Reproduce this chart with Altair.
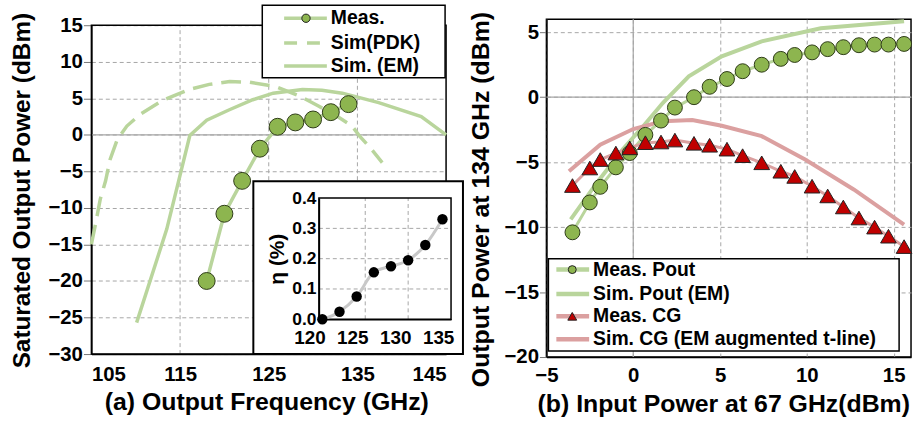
import altair as alt
import pandas as pd

# ---------------- panel (a): saturated output power vs frequency ----------------
meas_freq = [118, 120, 122, 124, 126, 128, 130, 132, 134]
meas_psat = [-20.0, -10.8, -6.3, -1.9, 1.1, 1.7, 2.1, 3.1, 4.2]

pdk_freq = [105, 105.5, 106, 106.6, 107.1, 107.9, 109, 110.5, 113, 116, 118.3, 120.6,
            122.8, 125.8, 128.5, 130.5, 132.5, 134.4, 135.2, 136.6, 137.8]
pdk_psat = [-15.0, -12.0, -8.8, -6.3, -3.4, -0.7, 1.2, 2.8, 4.7, 6.2, 6.9, 7.3,
            7.2, 6.6, 5.3, 4.0, 2.7, 1.2, -0.1, -2.0, -3.8]

em_freq = [110.1, 113.5, 114.8, 116.1, 118, 120.5, 123.2, 125.5, 128.8, 131, 133.3, 137.4, 142.2, 145]
em_psat = [-25.7, -12.9, -6.5, -0.1, 2.0, 3.4, 4.8, 5.7, 6.2, 6.1, 5.7, 4.4, 2.5, 0.0]

# inset: efficiency
eff_freq = [120, 122, 124, 126, 128, 130, 132, 134]
eff_pct = [0.0, 0.025, 0.075, 0.155, 0.175, 0.195, 0.245, 0.33]

# ---------------- panel (b): output power / conversion gain vs input power ----------------
pin_meas = [-3.5, -2.5, -1.9, -1.0, -0.2, 0.7, 1.6, 2.4, 3.5, 4.4, 5.4, 6.3, 7.4, 8.5,
            9.3, 10.3, 11.2, 12.1, 13.0, 13.9, 14.7, 15.6]
pout_meas = [-10.4, -8.1, -6.9, -5.4, -4.3, -2.9, -1.8, -0.8, 0.0, 0.8, 1.4, 2.0, 2.5, 2.95,
             3.25, 3.45, 3.7, 3.85, 4.0, 4.05, 4.05, 4.1]
cg_meas = [-6.8, -5.45, -4.8, -4.3, -3.9, -3.5, -3.45, -3.3, -3.55, -3.7, -4.0, -4.5, -5.05, -5.7,
           -6.1, -6.85, -7.6, -8.45, -9.3, -10.0, -10.7, -11.5]

pin_sim_pout = [-3.6, -2.1, -0.6, 0.6, 1.7, 3.2, 5.1, 7.4, 10.8, 15.6]
pout_sim = [-9.4, -6.6, -4.0, -2.2, -0.45, 1.6, 3.15, 4.3, 5.3, 5.85]
pin_sim_cg = [-3.7, -1.9, 0.0, 1.7, 3.4, 5.1, 7.4, 9.9, 12.7, 15.6]
cg_sim = [-5.7, -3.65, -2.45, -1.85, -1.75, -2.2, -3.0, -4.8, -7.1, -9.8]

# tick values / axis extents
a_x_dom = [105, 145]
a_y_dom = [-30, 15]
a_x_ticks = [105, 115, 125, 135, 145]
a_x_grid = [115, 125, 135]
a_y_ticks = [-30, -25, -20, -15, -10, -5, 0, 5, 10, 15]
in_x_dom = [119.6, 135]
in_y_dom = [0.0, 0.4]
in_x_ticks = [120, 125, 130, 135]
in_y_ticks = [0.0, 0.1, 0.2, 0.3, 0.4]
in_grid_x = [125, 130]
in_grid_y = [0.1, 0.2, 0.3]
b_x_dom = [-5, 16]
b_y_dom = [-20, 6]
b_x_ticks = [-5, 0, 5, 10, 15]
b_y_ticks = [-20, -15, -10, -5, 0, 5]

title_a_y = "Saturated Output  Power (dBm)"
legend_a = ["Meas.", "Sim(PDK)", "Sim. (EM)"]
legend_b = ["Meas. Pout", "Sim. Pout  (EM)", "Meas. CG", "Sim. CG (EM augmented  t-line)"]

# ---------------- styles ----------------
FONT = "Liberation Sans"
GREEN_LT = "#b9d59c"
GREEN_PT = "#8db54f"
PINK = "#dba0a0"
RED = "#c00000"
GRID = "#a6a6a6"
DUMMY = pd.DataFrame({"k": [0]})
TOP = 6  # left plot frame starts 6 px below the right one


def seg(x0, x1, y, color, width, dash=None):
    kw = dict(color=color, strokeWidth=width)
    if dash:
        kw["strokeDash"] = dash
    return alt.Chart(DUMMY).mark_rule(**kw).encode(
        x=alt.value(x0), x2=alt.value(x1), y=alt.value(y))


def sym(x, y, shape, fill, size):
    return alt.Chart(DUMMY).mark_point(shape=shape, filled=True, fill=fill, stroke="#222222",
                                       strokeWidth=1, size=size, opacity=1).encode(
        x=alt.value(x), y=alt.value(y))


def label(x, y, text, size=19.5, angle=0, align="left"):
    return alt.Chart(DUMMY).mark_text(align=align, baseline="middle", font=FONT, angle=angle,
                                      fontWeight="bold", fontSize=size, color="black").encode(
        x=alt.value(x), y=alt.value(y), text=alt.value(text))


def box(x0, x1, y0, y1, sw=1.5):
    return alt.Chart(DUMMY).mark_rect(fill="white", stroke="black", strokeWidth=sw).encode(
        x=alt.value(x0), x2=alt.value(x1), y=alt.value(y0), y2=alt.value(y1))


def anchor(x, y):
    return alt.Chart(DUMMY).mark_point(size=1, opacity=0).encode(x=alt.value(x), y=alt.value(y))


# ================= panel (a) =================
H_A = 337
df_a = pd.concat([
    pd.DataFrame({"f": meas_freq, "p": meas_psat, "s": "meas"}),
    pd.DataFrame({"f": pdk_freq, "p": pdk_psat, "s": "pdk"}),
    pd.DataFrame({"f": em_freq, "p": em_psat, "s": "em"}),
])

xs_a = alt.Scale(domain=a_x_dom, nice=False, zero=False)
ys_a = alt.Scale(domain=a_y_dom, range=[H_A, TOP], nice=False, zero=False)
ax_xa = alt.Axis(values=a_x_ticks, title="(a) Output Frequency (GHz)", grid=False,
                 ticks=False, labelFlush=True, labelPadding=11, titlePadding=4, titleX=176,
                 labelFontSize=20.5, titleFontSize=25, labelOverlap=False, titleLimit=800)
ax_ya = alt.Axis(values=a_y_ticks, title=None, grid=True, gridDash=[4, 3],
                 gridColor=GRID, tickSize=8, tickColor="#777777", labelPadding=1,
                 labelFontSize=20.5, labelOverlap=False)


def enc_a():
    return dict(x=alt.X("f:Q", scale=xs_a, axis=ax_xa), y=alt.Y("p:Q", scale=ys_a, axis=ax_ya))


grid_xa = alt.Chart(pd.DataFrame({"f": a_x_grid, "p": a_y_dom[0], "p2": a_y_dom[1]})).mark_rule(
    color=GRID, strokeDash=[4, 3], strokeWidth=1).encode(
    x=alt.X("f:Q", scale=xs_a, axis=ax_xa), y=alt.Y("p:Q", scale=ys_a, axis=ax_ya), y2="p2:Q")
zero_a = alt.Chart(pd.DataFrame({"p": [0]})).mark_rule(color=GRID, strokeWidth=1.2).encode(
    y=alt.Y("p:Q", scale=ys_a, axis=ax_ya))
frame_a = alt.Chart(pd.DataFrame({"f": [a_x_dom[0]], "f2": [a_x_dom[1]],
                                  "p": [a_y_dom[0]], "p2": [a_y_dom[1]]})).mark_rect(
    fillOpacity=0, stroke="black", strokeWidth=1.5).encode(
    x=alt.X("f:Q", scale=xs_a, axis=ax_xa), x2="f2:Q",
    y=alt.Y("p:Q", scale=ys_a, axis=ax_ya), y2="p2:Q")
pdk_line = alt.Chart(df_a).transform_filter("datum.s == 'pdk'").mark_line(
    color=GREEN_LT, strokeWidth=3.5, strokeDash=[20, 9]).encode(**enc_a())
em_line = alt.Chart(df_a).transform_filter("datum.s == 'em'").mark_line(
    color=GREEN_LT, strokeWidth=3.5).encode(**enc_a())
meas_line = alt.Chart(df_a).transform_filter("datum.s == 'meas'").mark_line(
    color=GREEN_LT, strokeWidth=3.5).encode(**enc_a())
meas_pts = alt.Chart(df_a).transform_filter("datum.s == 'meas'").mark_circle(
    size=290, color=GREEN_PT, stroke="#2e3b18", strokeWidth=1, opacity=1).encode(**enc_a())

main_a = alt.layer(grid_xa, zero_a, frame_a, pdk_line, em_line, meas_line, meas_pts)

# inset
df_i = pd.DataFrame({"f": eff_freq, "e": eff_pct})
xs_i = alt.Scale(domain=in_x_dom, range=[229, 362], nice=False, zero=False)
ys_i = alt.Scale(domain=in_y_dom, range=[296 + TOP, 174 + TOP], nice=False, zero=False)
ax_xi = alt.Axis(orient="bottom", offset=-35, values=in_x_ticks, title=None, grid=False, ticks=False,
                 labelOffset=-13, labelPadding=9, labelFontSize=19, zindex=1, labelOverlap=False,
                 labelFlush=False)
ax_yi = alt.Axis(orient="left", offset=-229, values=in_y_ticks, format=".1f", title="η (%)",
                 grid=False, ticks=False, labelPadding=3, titlePadding=4, labelFontSize=17.5,
                 titleFontSize=21, zindex=1, labelOverlap=False)

inset_box = box(163, 374, 157 + TOP, 331 + TOP, sw=2)
ig_v = alt.Chart(pd.DataFrame({"f": in_grid_x, "e0": in_y_dom[0], "e1": in_y_dom[1]})).mark_rule(
    color=GRID, strokeDash=[4, 3], strokeWidth=1).encode(
    x=alt.X("f:Q", scale=xs_i, axis=ax_xi), y=alt.Y("e0:Q", scale=ys_i, axis=ax_yi), y2="e1:Q")
ig_h = alt.Chart(pd.DataFrame({"e": in_grid_y, "f0": in_x_dom[0], "f1": in_x_dom[1]})).mark_rule(
    color=GRID, strokeDash=[4, 3], strokeWidth=1).encode(
    y=alt.Y("e:Q", scale=ys_i, axis=ax_yi), x=alt.X("f0:Q", scale=xs_i, axis=ax_xi), x2="f1:Q")
in_frame = alt.Chart(pd.DataFrame({"f0": [in_x_dom[0]], "f1": [in_x_dom[1]],
                                   "e0": [in_y_dom[0]], "e1": [in_y_dom[1]]})).mark_rect(
    fillOpacity=0, stroke="black", strokeWidth=1.5).encode(
    x=alt.X("f0:Q", scale=xs_i, axis=ax_xi), x2="f1:Q",
    y=alt.Y("e0:Q", scale=ys_i, axis=ax_yi), y2="e1:Q")
in_line = alt.Chart(df_i).mark_line(color="#c8c8c8", strokeWidth=3, interpolate="monotone").encode(
    x=alt.X("f:Q", scale=xs_i, axis=ax_xi), y=alt.Y("e:Q", scale=ys_i, axis=ax_yi))
in_pts = alt.Chart(df_i).mark_circle(size=110, color="black", opacity=1).encode(
    x=alt.X("f:Q", scale=xs_i, axis=ax_xi), y=alt.Y("e:Q", scale=ys_i, axis=ax_yi))

inset = alt.layer(inset_box, ig_v, ig_h, in_frame, in_line, in_pts)

# legend (a) + y title
leg_a = alt.layer(
    box(172, 356, -20 + TOP, 53 + TOP, sw=1.5),
    seg(194, 237, -7 + TOP, GREEN_LT, 3.5), sym(216, -7 + TOP, "circle", GREEN_PT, 70),
    label(241, -7 + TOP, legend_a[0]),
    seg(194, 237, 18 + TOP, GREEN_LT, 3.5, dash=[13, 10]), label(241, 18 + TOP, legend_a[1]),
    seg(194, 237, 41 + TOP, GREEN_LT, 3.5), label(241, 41 + TOP, legend_a[2]),
    label(-69, (H_A + TOP) / 2 + 1, title_a_y, size=24.5, angle=270, align="center"),
    anchor(-91, -16), anchor(377, -16),
)

left = alt.layer(main_a, inset, leg_a).resolve_scale(x="independent", y="independent").properties(
    width=357, height=H_A, view=alt.ViewBackground(stroke="transparent"))

# ================= panel (b) =================
df_b = pd.concat([
    pd.DataFrame({"pin": pin_meas, "v": pout_meas, "s": "pout_meas"}),
    pd.DataFrame({"pin": pin_meas, "v": cg_meas, "s": "cg_meas"}),
    pd.DataFrame({"pin": pin_sim_pout, "v": pout_sim, "s": "pout_sim"}),
    pd.DataFrame({"pin": pin_sim_cg, "v": cg_sim, "s": "cg_sim"}),
])

xs_b = alt.Scale(domain=b_x_dom, nice=False, zero=False)
ys_b = alt.Scale(domain=b_y_dom, nice=False, zero=False)
ax_xb = alt.Axis(values=b_x_ticks, title="(b) Input Power at 67 GHz(dBm)", grid=True, gridDash=[4, 3],
                 gridColor=GRID, ticks=False, labelPadding=9, titlePadding=5, titleX=178,
                 labelFlush=False, labelFontSize=20.5, titleFontSize=25, labelOverlap=False,
                 titleLimit=800)
ax_yb = alt.Axis(values=b_y_ticks, title="Output  Power at 134 GHz (dBm)", grid=True, gridDash=[4, 3],
                 gridColor=GRID, tickSize=7, tickColor="#777777", labelPadding=1, titlePadding=11,
                 titleY=181, labelFontSize=20.5, titleFontSize=25, labelOverlap=False, titleLimit=800)


def enc_b():
    return dict(x=alt.X("pin:Q", scale=xs_b, axis=ax_xb), y=alt.Y("v:Q", scale=ys_b, axis=ax_yb))


zero_bx = alt.Chart(pd.DataFrame({"pin": [0]})).mark_rule(color=GRID, strokeWidth=1.2).encode(
    x=alt.X("pin:Q", scale=xs_b, axis=ax_xb))
zero_by = alt.Chart(pd.DataFrame({"v": [0]})).mark_rule(color=GRID, strokeWidth=1.2).encode(
    y=alt.Y("v:Q", scale=ys_b, axis=ax_yb))
sim_pout_line = alt.Chart(df_b).transform_filter("datum.s == 'pout_sim'").mark_line(
    color=GREEN_LT, strokeWidth=4).encode(**enc_b())
sim_cg_line = alt.Chart(df_b).transform_filter("datum.s == 'cg_sim'").mark_line(
    color=PINK, strokeWidth=4).encode(**enc_b())
meas_pout_line = alt.Chart(df_b).transform_filter("datum.s == 'pout_meas'").mark_line(
    color=GREEN_LT, strokeWidth=3).encode(**enc_b())
meas_cg_line = alt.Chart(df_b).transform_filter("datum.s == 'cg_meas'").mark_line(
    color=PINK, strokeWidth=3).encode(**enc_b())
pout_pts = alt.Chart(df_b).transform_filter("datum.s == 'pout_meas'").mark_circle(
    size=225, color=GREEN_PT, stroke="#2e3b18", strokeWidth=1, opacity=1).encode(**enc_b())
cg_pts = alt.Chart(df_b).transform_filter("datum.s == 'cg_meas'").mark_point(
    shape="triangle-up", filled=True, size=250, fill=RED, stroke="#222222", strokeWidth=1,
    opacity=1).encode(**enc_b())

leg_b = alt.layer(
    box(2, 355, 241, 334, sw=1.5),
    seg(10, 43, 252, GREEN_LT, 4.5), sym(26, 252, "circle", GREEN_PT, 64), label(47, 252, legend_b[0]),
    seg(10, 43, 276.5, GREEN_LT, 4.5), label(47, 276.5, legend_b[1]),
    seg(10, 43, 299, PINK, 4.5), sym(26, 299, "triangle-up", RED, 80), label(47, 299, legend_b[2]),
    seg(10, 43, 322, PINK, 4.5), label(47, 322, legend_b[3]),
    anchor(-77, -16),
)

right = alt.layer(zero_bx, zero_by, sim_pout_line, sim_cg_line, meas_pout_line, meas_cg_line,
                  pout_pts, cg_pts, leg_b).properties(
    width=367, height=340, view=alt.ViewBackground(stroke="black", strokeWidth=1.5))

chart = alt.hconcat(left, right, spacing=0).properties(
    padding={"left": 0, "top": 0, "right": 0, "bottom": 0}, background="white"
).configure_axis(
    labelFont=FONT, titleFont=FONT, labelFontWeight="bold", titleFontWeight="bold",
    labelColor="black", titleColor="black", domainColor="black", domainWidth=1.5, gridWidth=1
)

chart.save("out.html", embed_options={"renderer": "svg", "actions": False})
